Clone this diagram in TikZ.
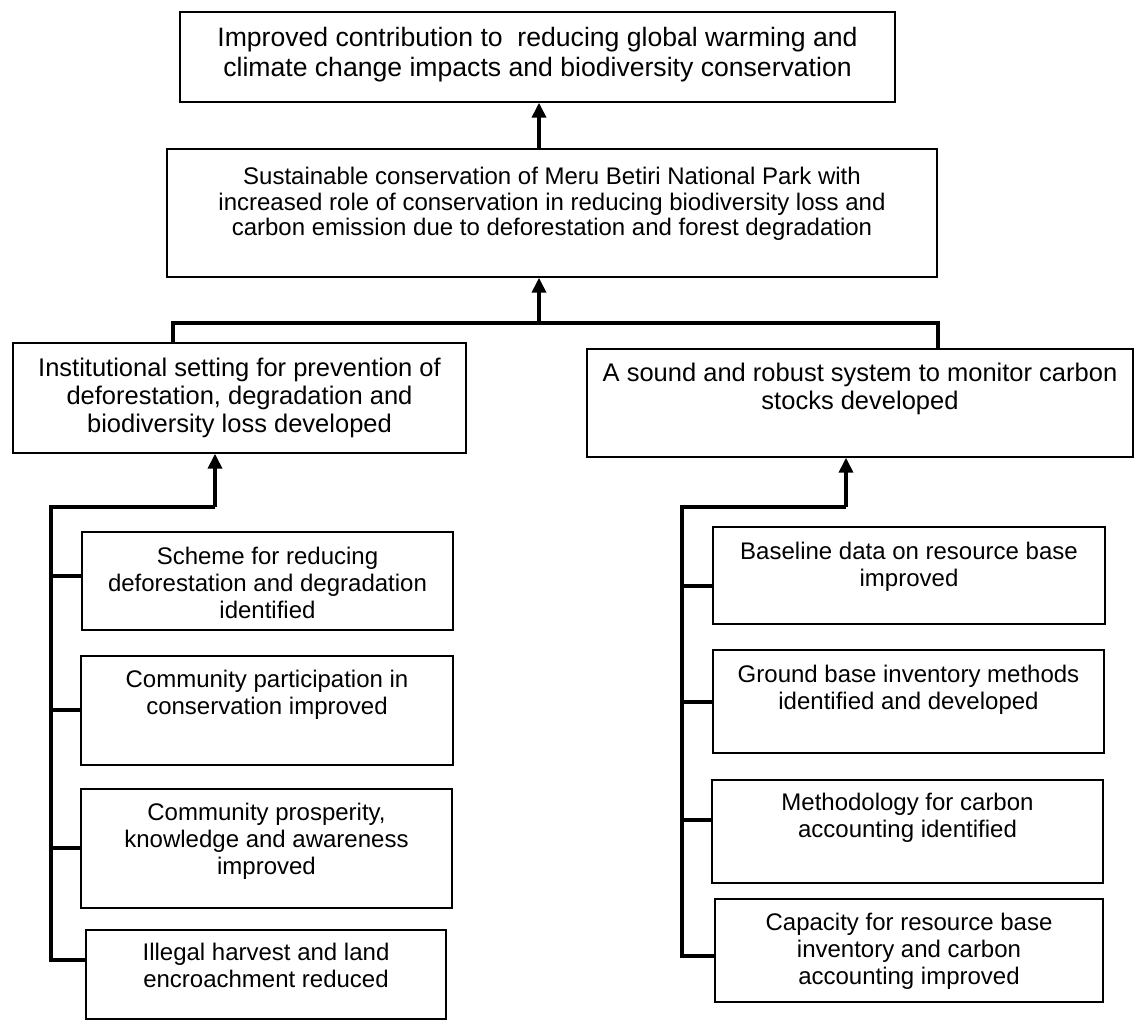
\documentclass[tikz,border=0pt]{standalone}
\usepackage{fontspec}
\setmainfont{Liberation Sans}
\usetikzlibrary{arrows.meta,calc}
\begin{document}
\begin{tikzpicture}[x=1pt,y=-1pt,
  box/.style={draw, line width=1.4pt, inner sep=0pt},
  txt/.style={anchor=north, align=center, inner sep=0pt, font=\fontsize{24}{27}\selectfont},
  bigtxt/.style={txt, font=\fontsize{26.6}{30}\selectfont},
  midtxt/.style={txt, font=\fontsize{24}{25.5}\selectfont},
  boxtxt/.style={txt, font=\fontsize{25.5}{28}\selectfont},
  conn/.style={line width=3.6pt},
  arr/.style={conn, -{Triangle[width=14pt,length=15pt]}},
]
\useasboundingbox (0,0) rectangle (1135,1021);
\fill[white] (0,0) rectangle (1135,1021);

% boxes
\node (top) [box, minimum width=715pt, minimum height=90pt] at (537.5,57) {};
\node (mid) [box, minimum width=770pt, minimum height=128pt] at (552,213) {};
\node (inst) [box, minimum width=453pt, minimum height=110pt] at (239.5,398) {};
\node (right) [box, minimum width=546pt, minimum height=108pt] at (860,403) {};
\node (scheme) [box, minimum width=371pt, minimum height=98pt] at (267.5,581) {};
\node (part) [box, minimum width=372pt, minimum height=109pt] at (267,710.5) {};
\node (prosp) [box, minimum width=371pt, minimum height=119pt] at (266.5,848.5) {};
\node (illegal) [box, minimum width=360pt, minimum height=89pt] at (266,974.5) {};
\node (base) [box, minimum width=392pt, minimum height=97pt] at (909,575.5) {};
\node (ground) [box, minimum width=391pt, minimum height=103pt] at (908.5,701.5) {};
\node (method) [box, minimum width=391pt, minimum height=103pt] at (907.5,831.5) {};
\node (capacity) [box, minimum width=388pt, minimum height=103pt] at (909,950.5) {};

% texts
\node (toptxt) [bigtxt] at ($(top.north)+(0,16)$) {Improved contribution to\ \ reducing global warming and\\climate change impacts and biodiversity conservation};
\node (midtxt) [midtxt] at ($(mid.north)+(0,19)$) {Sustainable conservation of Meru Betiri National Park with\\increased role of conservation in reducing biodiversity loss and\\carbon emission due to deforestation and forest degradation};
\node (insttxt) [boxtxt] at ($(inst.north)+(0,16)$) {Institutional setting for prevention of\\deforestation, degradation and\\biodiversity loss developed};
\node (righttxt) [boxtxt] at ($(right.north)+(0,15)$) {A sound and robust system to monitor carbon\\stocks developed};
\node (schemetxt) [txt] at ($(scheme.north)+(0,16)$) {Scheme for reducing\\deforestation and degradation\\identified};
\node (parttxt) [txt] at ($(part.north)+(0,15)$) {Community participation in\\conservation improved};
\node (prosptxt) [txt] at ($(prosp.north)+(0,15)$) {Community prosperity,\\knowledge and awareness\\improved};
\node (illegaltxt) [txt] at ($(illegal.north)+(0,14)$) {Illegal harvest and land\\encroachment reduced};
\node (basetxt) [txt] at ($(base.north)+(0,16)$) {Baseline data on resource base\\improved};
\node (groundtxt) [txt] at ($(ground.north)+(0,16)$) {Ground base inventory methods\\identified and developed};
\node (methodtxt) [txt] at ($(method.north)+(0,14)$) {Methodology for carbon\\accounting identified};
\node (capacitytxt) [txt] at ($(capacity.north)+(0,15)$) {Capacity for resource base\\inventory and carbon\\accounting improved};

% upper connectors
\coordinate (ax) at (539,0);
\draw[arr] (ax |- mid.north) -- (ax |- top.south);
\coordinate (bus) at (539,323);
\coordinate (busL) at (173,323);
\coordinate (busR) at (938,323);
\draw[arr] (bus) -- (bus |- mid.south);
\draw[conn] (busL |- inst.north) -- (busL) -- (busR) -- (busR |- right.north);

% left spine
\coordinate (lsT) at (51,507);
\coordinate (la) at (215,507);
\coordinate (lb1) at (51,576);
\coordinate (lb2) at (51,710);
\coordinate (lb3) at (51,848);
\coordinate (lb4) at (51,960);
\draw[arr] (la) -- (la |- inst.south);
\draw[conn] (la) -- (lsT) -- (lb4) -- (lb4 -| illegal.west);
\draw[conn] (lb1) -- (lb1 -| scheme.west);
\draw[conn] (lb2) -- (lb2 -| part.west);
\draw[conn] (lb3) -- (lb3 -| prosp.west);

% right spine
\coordinate (rsT) at (682,507);
\coordinate (ra) at (846,507);
\coordinate (rb1) at (682,586);
\coordinate (rb2) at (682,702);
\coordinate (rb3) at (682,820);
\coordinate (rb4) at (682,956);
\draw[arr] (ra) -- (ra |- right.south);
\draw[conn] (ra) -- (rsT) -- (rb4) -- (rb4 -| capacity.west);
\draw[conn] (rb1) -- (rb1 -| base.west);
\draw[conn] (rb2) -- (rb2 -| ground.west);
\draw[conn] (rb3) -- (rb3 -| method.west);
\end{tikzpicture}
\end{document}
